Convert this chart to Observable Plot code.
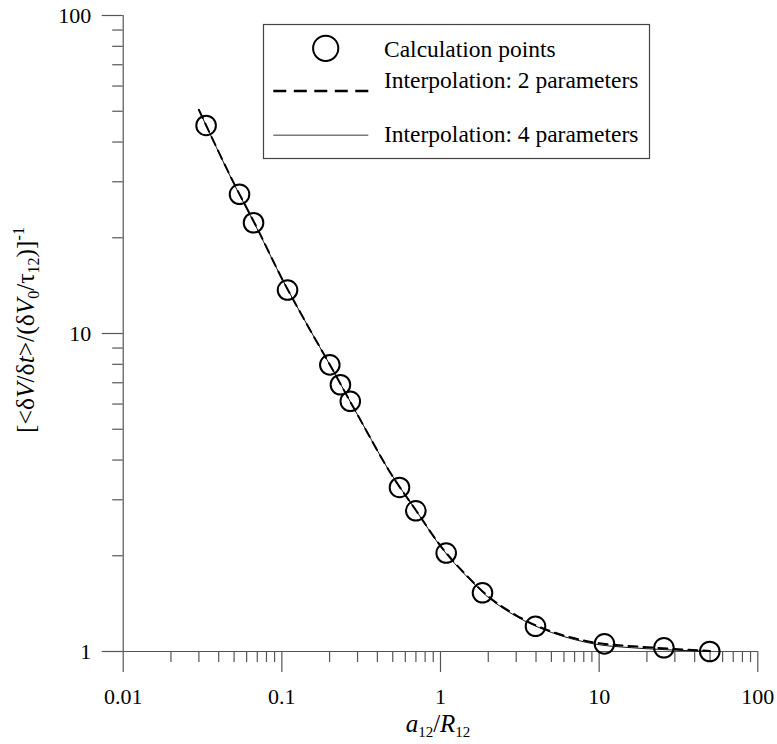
<!DOCTYPE html>
<html><head><meta charset="utf-8">
<script src="https://cdn.jsdelivr.net/npm/d3@7"></script>
<script src="https://cdn.jsdelivr.net/npm/@observablehq/plot@0.6"></script>
<style>
body{margin:0;background:#fff}
#wrap{position:relative;width:777px;height:744px}
</style></head><body><div id="wrap"></div>
<script>
// Calculation points
const pointX = [0.0333, 0.0541, 0.0663, 0.1086, 0.2006, 0.234, 0.270, 0.5515, 0.699, 1.086, 1.84, 3.97, 10.8, 25.6, 49.8];
const pointY = [45.1, 27.4, 22.3, 13.7, 7.97, 6.90, 6.12, 3.28, 2.77, 2.04, 1.53, 1.20, 1.057, 1.027, 1.0];
// Interpolation curves
const curveX  = [0.03, 0.05, 0.07, 0.1, 0.15, 0.2, 0.3, 0.5, 0.7, 1, 1.5, 2, 3, 5, 7, 10, 15, 20, 30, 50];
const curve2Y = [50.5, 29.6, 21.4, 14.9, 10.3, 8.0, 5.55, 3.55, 2.78, 2.15, 1.71, 1.49, 1.30, 1.155, 1.10, 1.062, 1.042, 1.032, 1.018, 1.004];
const curve4Y = [50.5, 29.5, 21.3, 14.9, 10.3, 8.0, 5.55, 3.55, 2.78, 2.14, 1.70, 1.48, 1.29, 1.148, 1.09, 1.05, 1.03, 1.02, 1.01, 1.0];
// Axes
const xMajor = [0.01, 0.1, 1, 10, 100];
const xMajorLabels = ["0.01", "0.1", "1", "10", "100"];
const xMinor = [0.02,0.03,0.04,0.05,0.06,0.07,0.08,0.09, 0.2,0.3,0.4,0.5,0.6,0.7,0.8,0.9, 2,3,4,5,6,7,8,9, 20,30,40,50,60,70,80,90];
const yMajor = [1, 10, 100];
const yMajorLabels = ["1", "10", "100"];
const yMinor = [2,3,4,5,6,7,8,9, 20,30,40,50,60,70,80,90];
const legendLabels = ["Calculation points", "Interpolation: 2 parameters", "Interpolation: 4 parameters"];

const FONT = "'Liberation Serif', 'Times New Roman', serif";
const FS = 22;
const points = pointX.map((x, i) => ({x, y: pointY[i]}));
const c2 = curveX.map((x, i) => ({x, y: curve2Y[i]}));
const c4 = curveX.map((x, i) => ({x, y: curve4Y[i]}));
const xFmt = d => xMajorLabels[xMajor.indexOf(d)];
const yFmt = d => yMajorLabels[yMajor.indexOf(d)];
const AX = "#555";

const chart = Plot.plot({
  width: 777, height: 744,
  marginLeft: 122.7, marginRight: 19.7, marginTop: 15, marginBottom: 93,
  x: {type: "log", domain: [0.01, 100]},
  y: {type: "log", domain: [1, 100]},
  style: {fontFamily: FONT, fontSize: FS + "px", background: "white", color: "black"},
  marks: [
    Plot.axisX({ticks: xMinor, tickSize: 11, tickFormat: () => "", label: null, stroke: AX, strokeWidth: 1.2}),
    Plot.axisX({ticks: xMajor, tickSize: 21, tickPadding: 16, tickFormat: xFmt, label: null, stroke: AX, strokeWidth: 1.2, fontSize: FS, fill: "black"}),
    Plot.axisY({ticks: yMinor, tickSize: 10.5, tickFormat: () => "", label: null, stroke: AX, strokeWidth: 1.2}),
    Plot.axisY({ticks: yMajor, tickSize: 21, tickPadding: 11, tickFormat: yFmt, label: null, stroke: AX, strokeWidth: 1.2, fontSize: FS, fill: "black"}),
    Plot.ruleY([1], {stroke: AX, strokeWidth: 1.2}),
    Plot.ruleX([0.01], {stroke: AX, strokeWidth: 1.2}),
    Plot.line(c4, {x: "x", y: "y", stroke: "#111", strokeWidth: 1, curve: "monotone-x"}),
    Plot.line(c2, {x: "x", y: "y", stroke: "black", strokeWidth: 2, strokeDasharray: "9,6", curve: "monotone-x"}),
    Plot.dot(points, {x: "x", y: "y", r: 9.8, stroke: "black", strokeWidth: 2, fill: "none"})
  ]
});
document.getElementById("wrap").appendChild(chart);

const svg = d3.select(chart);
svg.selectAll('g[aria-label$="tick label"] text').style("font-size", FS + "px").style("font-family", FONT);

// Legend
const lg = svg.append("g").attr("transform", "translate(263,24)").style("font-family", FONT).style("font-size", "23.5px");
lg.append("rect").attr("x", 0.5).attr("y", 0.5).attr("width", 386).attr("height", 134).attr("fill", "white").attr("stroke", "#444").attr("stroke-width", 1.2);
lg.append("circle").attr("cx", 62.7).attr("cy", 24.3).attr("r", 12.6).attr("fill", "none").attr("stroke", "black").attr("stroke-width", 2);
lg.append("line").attr("x1", 10.3).attr("x2", 105.3).attr("y1", 67).attr("y2", 67).attr("stroke", "black").attr("stroke-width", 2.6).attr("stroke-dasharray", "13,7.5");
lg.append("line").attr("x1", 10.3).attr("x2", 105.3).attr("y1", 111.3).attr("y2", 111.3).attr("stroke", "#7a7a7a").attr("stroke-width", 1.6);
const lgBase = [32.5, 64.3, 117.7];
legendLabels.forEach((t, i) => lg.append("text").attr("x", 121).attr("y", lgBase[i]).attr("text-anchor", "start").attr("fill", "black").text(t));

// X label: a12/R12
const xl = svg.append("text").attr("x", 438).attr("y", 732).attr("text-anchor", "middle").style("font-family", FONT).style("font-size", "25px").attr("fill", "black");
xl.append("tspan").attr("font-style", "italic").text("a");
xl.append("tspan").style("font-size", "15px").attr("dy", 5).text("12");
xl.append("tspan").attr("dy", -5).text("/");
xl.append("tspan").attr("font-style", "italic").text("R");
xl.append("tspan").style("font-size", "15px").attr("dy", 5).text("12");

// Y label: [<δV/δt>/(δV0/τ12)]-1
const yl = svg.append("text").attr("transform", "translate(34,330) rotate(-90)").attr("text-anchor", "middle").style("font-family", FONT).style("font-size", "25.5px").attr("fill", "black");
yl.append("tspan").text("[<δ");
yl.append("tspan").attr("font-style", "italic").text("V");
yl.append("tspan").text("/δ");
yl.append("tspan").attr("font-style", "italic").text("t");
yl.append("tspan").text(">/(δ");
yl.append("tspan").attr("font-style", "italic").text("V");
yl.append("tspan").style("font-size", "16px").attr("dy", 5).text("0");
yl.append("tspan").attr("dy", -5).text("/τ");
yl.append("tspan").style("font-size", "16px").attr("dy", 5).text("12");
yl.append("tspan").attr("dy", -5).text(")]");
yl.append("tspan").style("font-size", "16px").attr("dy", -10).text("-1");
</script></body></html>
